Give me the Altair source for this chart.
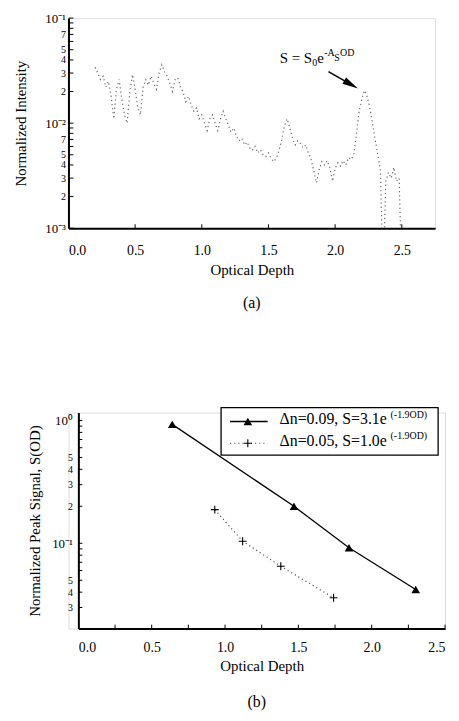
import altair as alt
import pandas as pd

FONT = "Liberation Serif"

# ---------------- Panel (a) data ----------------
od_a = [0.20, 0.22, 0.24, 0.26, 0.28, 0.30, 0.32, 0.34, 0.36, 0.38,
        0.40, 0.42, 0.44, 0.46, 0.48, 0.50, 0.52, 0.54, 0.56, 0.58,
        0.60, 0.62, 0.64, 0.66, 0.68, 0.70, 0.72, 0.74, 0.76, 0.78,
        0.80, 0.82, 0.84, 0.86, 0.88, 0.90, 0.92, 0.94, 0.96, 0.98,
        1.00, 1.02, 1.04, 1.06, 1.08, 1.10, 1.12, 1.14, 1.16, 1.18,
        1.20, 1.22, 1.24, 1.26, 1.28, 1.30, 1.32, 1.34, 1.36, 1.38,
        1.40, 1.42, 1.44, 1.46, 1.48, 1.50, 1.52, 1.54, 1.56, 1.58,
        1.60, 1.62, 1.64, 1.66, 1.68, 1.70, 1.72, 1.74, 1.76, 1.78,
        1.80, 1.82, 1.84, 1.86, 1.88, 1.90, 1.92, 1.94, 1.96, 1.98,
        2.00, 2.02, 2.04, 2.06, 2.08, 2.10, 2.12, 2.14, 2.16, 2.18,
        2.20, 2.22, 2.24, 2.26, 2.28, 2.30, 2.32, 2.34, 2.35, 2.37,
        2.38, 2.40, 2.42, 2.44, 2.46, 2.48, 2.49]
intensity_a = [0.034, 0.030, 0.026, 0.028, 0.022, 0.025, 0.018, 0.011, 0.021, 0.026,
               0.017, 0.012, 0.010, 0.020, 0.029, 0.021, 0.014, 0.012, 0.022, 0.026,
               0.023, 0.028, 0.024, 0.021, 0.030, 0.036, 0.031, 0.028, 0.024, 0.020,
               0.026, 0.027, 0.022, 0.020, 0.016, 0.018, 0.015, 0.013, 0.014, 0.011,
               0.012, 0.010, 0.0085, 0.011, 0.012, 0.010, 0.0085, 0.011, 0.013, 0.011,
               0.0095, 0.0082, 0.0090, 0.0075, 0.0068, 0.0072, 0.0062, 0.0066, 0.0058, 0.0055,
               0.0060, 0.0052, 0.0056, 0.0050, 0.0048, 0.0052, 0.0046, 0.0043, 0.0047, 0.0055,
               0.0070, 0.0095, 0.0110, 0.0090, 0.0072, 0.0062, 0.0068, 0.0064, 0.0058, 0.0062,
               0.0052, 0.0045, 0.0035, 0.0027, 0.0036, 0.0043, 0.0040, 0.0044, 0.0038, 0.0028,
               0.0037, 0.0042, 0.0039, 0.0044, 0.0040, 0.0047, 0.0045, 0.0050, 0.0080, 0.0130,
               0.0170, 0.0205, 0.0180, 0.0140, 0.0100, 0.0070, 0.0050, 0.0035, 0.0010, 0.0010,
               0.0028, 0.0034, 0.0030, 0.0038, 0.0028, 0.0030, 0.0010]

a_label_values = [0.1, 0.07, 0.05, 0.04, 0.03, 0.02, 0.01, 0.007, 0.005, 0.004, 0.003, 0.002, 0.001]
a_tick_values = [0.1, 0.09, 0.08, 0.07, 0.06, 0.05, 0.04, 0.03, 0.02,
                 0.01, 0.009, 0.008, 0.007, 0.006, 0.005, 0.004, 0.003, 0.002, 0.001]
a_x_labels = [0.0, 0.5, 1.0, 1.5, 2.0, 2.5]
a_x_ticks = [0.5, 1.0, 1.5, 2.0, 2.5]

# ---------------- Panel (b) data ----------------
od_b1 = [0.64, 1.47, 1.845, 2.30]
s_b1 = [0.93, 0.20, 0.092, 0.042]
od_b2 = [0.93, 1.12, 1.38, 1.74]
s_b2 = [0.188, 0.104, 0.065, 0.036]

b_label_values = [1.0, 0.6, 0.5, 0.4, 0.3, 0.2, 0.1, 0.05, 0.04, 0.03]
b_tick_values = [1.0, 0.9, 0.8, 0.7, 0.6, 0.5, 0.4, 0.3, 0.2,
                 0.1, 0.09, 0.08, 0.07, 0.06, 0.05, 0.04, 0.03]
b_x_labels = [0.0, 0.5, 1.0, 1.5, 2.0, 2.5]
b_x_ticks = [0.25, 0.5, 0.75, 1.0, 1.25, 1.5, 1.75, 2.0, 2.25, 2.5]

legend_main = ["Δn=0.09, S=3.1e", "Δn=0.05, S=1.0e"]
legend_sup = ["(-1.9OD)", "(-1.9OD)"]

# ---------------- helpers ----------------
MAJOR_TEST = "datum.value == 1 || datum.value == 0.1 || datum.value == 0.01 || datum.value == 0.001"
LABEL_EXPR = ("datum.value == 1 ? '10⁰' : datum.value == 0.1 ? '10⁻¹' : "
              "datum.value == 0.01 ? '10⁻²' : datum.value == 0.001 ? '10⁻³' : "
              "format(datum.value / pow(10, floor(log(datum.value) / LN10 + 0.0001)), '.0f')")


def x_axis(values, label_pad, title_pad):
    return alt.Axis(
        title="Optical Depth", values=values, format=".1f",
        ticks=False, tickSize=0, labelPadding=label_pad, titlePadding=title_pad,
        grid=False, domainColor="black", domainWidth=2,
        labelFont=FONT, labelFontSize=14, labelColor="black",
        titleFont=FONT, titleFontSize=15, titleFontWeight="normal", titleColor="black")


def y_axis(title, values, label_pad, title_pad, offset=0):
    return alt.Axis(
        title=title, values=values, labelExpr=LABEL_EXPR, offset=offset,
        ticks=False, tickSize=0, labelPadding=label_pad, titlePadding=title_pad,
        grid=False, domainColor="black", domainWidth=2,
        labelFont=FONT, labelColor="black",
        labelFontSize={"condition": {"test": MAJOR_TEST, "value": 13}, "value": 10},
        titleFont=FONT, titleFontSize=15, titleFontWeight="normal", titleColor="black")


# ================= Panel (a) =================
WA, HA = 370, 212
xa = alt.Scale(domain=[0, 2.75], nice=False, zero=False)
ya = alt.Scale(type="log", domain=[0.001, 0.1], nice=False)
XA = alt.X("od:Q", scale=xa, axis=x_axis(a_x_labels, 16, 5))
YA = alt.Y("s:Q", scale=ya, axis=y_axis("Normalized Intensity", a_label_values, 3, 16))

df_a = pd.DataFrame({"od": od_a, "s": intensity_a})
line_a = alt.Chart(df_a).mark_line(
    stroke="#666666", strokeWidth=1.2, strokeDash=[1.2, 3], clip=True
).encode(x=XA, y=YA)

ytick_a = alt.Chart(pd.DataFrame({"s": a_tick_values})).mark_rule(
    color="black", strokeWidth=1
).encode(y=YA, x=alt.value(0), x2=alt.value(5))
xtick_a = alt.Chart(pd.DataFrame({"od": a_x_ticks})).mark_rule(
    color="black", strokeWidth=1
).encode(x=XA, y=alt.value(HA), y2=alt.value(HA - 4))

# annotation S = S0 e^{-A_S OD}
ann_x, ann_y = [1.584], [0.0376]
ann_pieces = [
    ("S = S", 0, 0, 15),
    ("0", 33, 3, 10),
    ("e", 38, 0, 15),
    ("-A", 45, -7, 10),
    ("S", 55, -2, 10),
    ("OD", 61, -7, 10),
]
ann_layers = []
for txt, dx, dy, fs in ann_pieces:
    ann_layers.append(
        alt.Chart(pd.DataFrame({"od": ann_x, "s": ann_y, "t": [txt]})).mark_text(
            align="left", baseline="alphabetic", dx=dx, dy=dy, font=FONT,
            fontSize=fs, color="black"
        ).encode(x=XA, y=YA, text="t:N")
    )

arrow_from_od, arrow_from_s = [1.95], [0.031]
arrow_to_od, arrow_to_s = [2.12], [0.0233]
arrow_df = pd.DataFrame({"od": arrow_from_od, "s": arrow_from_s,
                         "od2": arrow_to_od, "s2": arrow_to_s})
arrow_line = alt.Chart(arrow_df).mark_rule(color="black", strokeWidth=1.5).encode(
    x=XA, y=YA, x2="od2:Q", y2="s2:Q",
)
head_od, head_s = [2.12], [0.0233]
arrow_head = alt.Chart(pd.DataFrame({"od": head_od, "s": head_s})).mark_point(
    shape="M0,-1L0.45,1L-0.45,1Z", size=260, filled=True, color="black",
    opacity=1, angle=120
).encode(x=XA, y=YA)

chart_a = alt.layer(
    line_a, ytick_a, xtick_a, arrow_line, arrow_head, *ann_layers
).properties(
    width=WA, height=HA,
    title=alt.TitleParams("(a)", orient="bottom", font=FONT, fontSize=16,
                          fontWeight="normal", color="black", offset=18, anchor="middle"),
)

# ================= Panel (b) =================
SHIFT = 10
WB, HB = 370 + SHIFT, 218
xb = alt.Scale(domain=[0, 2.5], nice=False, zero=False, range=[SHIFT, WB])
yb = alt.Scale(type="log", domain=[0.0202, 1.16], nice=False)
XB = alt.X("od:Q", scale=xb, axis=x_axis(b_x_labels, 12, 4))
YB = alt.Y("s:Q", scale=yb, axis=y_axis("Normalized Peak Signal, S(OD)", b_label_values,
                                          6, 9, offset=-SHIFT))

df_b1 = pd.DataFrame({"od": od_b1, "s": s_b1})
df_b2 = pd.DataFrame({"od": od_b2, "s": s_b2})

line_b1 = alt.Chart(df_b1).mark_line(color="black", strokeWidth=1.3).encode(x=XB, y=YB)
pts_b1 = alt.Chart(df_b1).mark_point(
    shape="triangle-up", size=75, filled=True, color="black", opacity=1
).encode(x=XB, y=YB)

line_b2 = alt.Chart(df_b2).mark_line(
    color="#555555", strokeWidth=1.2, strokeDash=[1.2, 3]
).encode(x=XB, y=YB)
pts_b2 = alt.Chart(df_b2).mark_point(
    shape="M-1,0H1M0,-1V1", size=64, filled=False, color="black", strokeWidth=1.1, opacity=1
).encode(x=XB, y=YB)

ytick_b = alt.Chart(pd.DataFrame({"s": b_tick_values})).mark_rule(
    color="black", strokeWidth=1
).encode(y=YB, x=alt.value(SHIFT), x2=alt.value(SHIFT + 4))
xtick_b = alt.Chart(pd.DataFrame({"od": b_x_ticks})).mark_rule(
    color="black", strokeWidth=1
).encode(x=XB, y=alt.value(HB), y2=alt.value(HB - 4))

# legend box (drawn inside plot, top-right)
leg_box = alt.Chart(pd.DataFrame({"k": [0]})).mark_rect(
    fill="white", stroke="black", strokeWidth=1.3
).encode(x=alt.value(154), x2=alt.value(373), y=alt.value(-5), y2=alt.value(43))
leg_line1 = alt.Chart(pd.DataFrame({"k": [0]})).mark_rule(color="black", strokeWidth=1.5).encode(
    x=alt.value(163), x2=alt.value(201), y=alt.value(9))
leg_sym1 = alt.Chart(pd.DataFrame({"k": [0]})).mark_point(
    shape="triangle-up", size=75, filled=True, color="black", opacity=1
).encode(x=alt.value(181), y=alt.value(9))
leg_line2 = alt.Chart(pd.DataFrame({"k": [0]})).mark_rule(
    color="#555555", strokeWidth=1.2, strokeDash=[1.2, 3]).encode(
    x=alt.value(163), x2=alt.value(201), y=alt.value(31))
leg_sym2 = alt.Chart(pd.DataFrame({"k": [0]})).mark_point(
    shape="M-1,0H1M0,-1V1", size=64, filled=False, color="black", strokeWidth=1.1, opacity=1
).encode(x=alt.value(181), y=alt.value(31))

leg_texts = []
for i, (m, s) in enumerate(zip(legend_main, legend_sup)):
    base = 12 + 22 * i
    leg_texts.append(alt.Chart(pd.DataFrame({"t": [m]})).mark_text(
        align="left", baseline="alphabetic", font=FONT, fontSize=16, color="black"
    ).encode(text="t:N", x=alt.value(213), y=alt.value(base)))
    leg_texts.append(alt.Chart(pd.DataFrame({"t": [s]})).mark_text(
        align="left", baseline="alphabetic", font=FONT, fontSize=10, color="black"
    ).encode(text="t:N", x=alt.value(325), y=alt.value(base - 7)))

chart_b = alt.layer(
    line_b2, pts_b2, line_b1, pts_b1, ytick_b, xtick_b,
    leg_box, leg_line1, leg_sym1, leg_line2, leg_sym2, *leg_texts
).properties(
    width=WB, height=HB,
    title=alt.TitleParams("(b)", orient="bottom", font=FONT, fontSize=16,
                          fontWeight="normal", color="black", offset=21, anchor="middle"),
)

chart = alt.vconcat(chart_a, chart_b, spacing=94).resolve_scale(
    x="independent", y="independent"
).properties(
    padding={"left": 5, "top": 0, "right": 5, "bottom": 5},
).configure_view(strokeWidth=0).configure(background="white")

chart.save("out.html", embed_options={"renderer": "svg", "actions": False})
